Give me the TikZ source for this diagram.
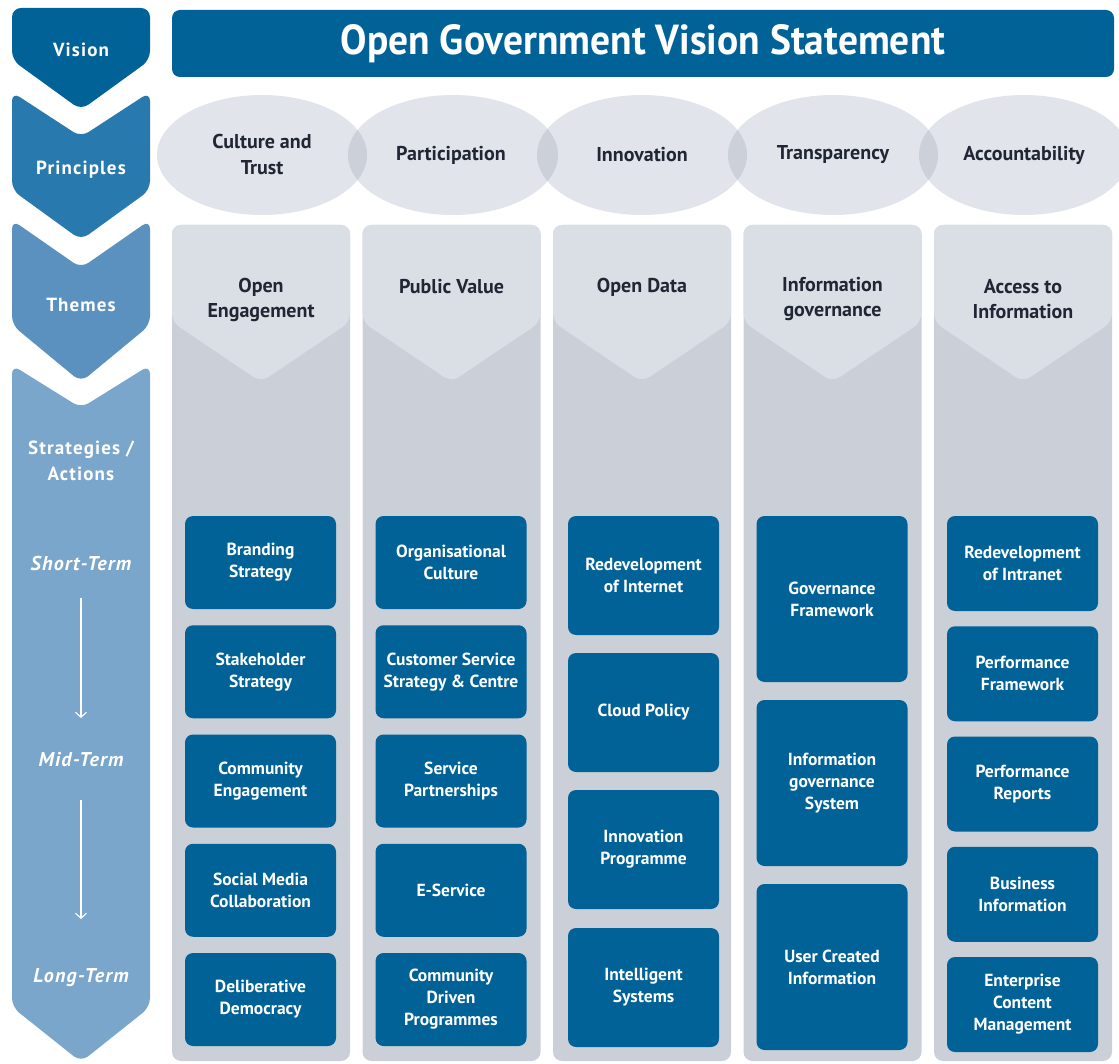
\documentclass[tikz,border=0pt]{standalone}
\usepackage{fontspec}
\setmainfont{PT Sans}
\newfontfamily\chevfont{PT Sans}[LetterSpace=6]
\newfontfamily\titlefont{PT Sans}[FakeStretch=0.94]
\usetikzlibrary{arrows.meta,shapes.geometric}
\definecolor{cvision}{RGB}{0,98,150}
\definecolor{cprinc}{RGB}{40,121,173}
\definecolor{cthemes}{RGB}{90,145,190}
\definecolor{cstrat}{RGB}{122,166,203}
\definecolor{colbody}{RGB}{203,208,216}
\definecolor{colhead}{RGB}{218,222,229}
\definecolor{ellfill}{RGB}{225,228,234}
\definecolor{ellover}{RGB}{204,209,217}
\definecolor{darktext}{RGB}{32,38,52}
\definecolor{boxblue}{RGB}{0,98,150}
\begin{document}
\begin{tikzpicture}[x=1pt,y=-1pt,
  chevlabel/.style={text=white,font=\chevfont\bfseries\fontsize{19}{26}\selectfont,align=center,inner sep=1pt},
  termlabel/.style={text=white,font=\chevfont\bfseries\itshape\fontsize{20}{26}\selectfont,inner sep=1pt},
  termarrow/.style={white,line width=1.1pt,-{Straight Barb[length=5pt,width=11pt]}},
  header/.style={fill=cvision,rounded corners=8pt,minimum width=942pt,minimum height=67pt,text=white,font=\titlefont\bfseries\fontsize{42}{48}\selectfont,inner sep=0pt},
  princ/.style={text=darktext,font=\bfseries\fontsize{20}{26}\selectfont,align=center,inner sep=1pt},
  theme/.style={text=darktext,font=\bfseries\fontsize{20}{25}\selectfont,align=center,inner sep=1pt},
  actbox/.style={fill=boxblue,rounded corners=8pt,minimum width=151pt,text=white,font=\bfseries\fontsize{17.5}{22}\selectfont,align=center,inner sep=2pt},
]
\useasboundingbox (0,0) rectangle (1119,1064);
\fill[white] (0,0) rectangle (1119,1064);

% ---- left chevrons ----
\fill[cvision,rounded corners=9pt] (12,60) -- (12,8) -- (150,8) -- (150,60) -- (81,110) -- cycle;
\fill[cprinc,rounded corners=9pt] (12,92) -- (81,137) -- (150,92) -- (150,190) -- (81,240) -- (12,190) -- cycle;
\fill[cthemes,rounded corners=9pt] (12,220) -- (81,268) -- (150,220) -- (150,325) -- (81,382) -- (12,325) -- cycle;
\fill[cstrat,rounded corners=9pt] (12,365) -- (81,408) -- (150,365) -- (150,1007) -- (81,1062) -- (12,1007) -- cycle;

\node[chevlabel] (lvision) at (81,50) {Vision};
\node[chevlabel] (lprinc) at (81,170) {Principles};
\node[chevlabel] (lthemes) at (81,305) {Themes};
\node[chevlabel] (lstrat) at (81,461) {Strategies /\\Actions};
\node[termlabel] (lshort) at (81,563) {Short-Term};
\node[termlabel] (lmid) at (81,760) {Mid-Term};
\node[termlabel] (llong) at (81,978) {Long-Term};
\coordinate (a1s) at (81,598);
\coordinate (a1e) at (81,718);
\coordinate (a2s) at (81,800);
\coordinate (a2e) at (81,919);
\draw[termarrow] (a1s) -- (a1e);
\draw[termarrow] (a2s) -- (a2e);

% ---- header ----
\node[header] (title) at (643,43.5) {Open Government Vision Statement};

% ---- principle ellipses ----
\foreach \cx in {262,453,642,833,1024}{
  \fill[ellfill] (\cx,155) ellipse [x radius=105pt, y radius=60pt];
}
\foreach \ca/\cb in {262/453,453/642,642/833,833/1024}{
  \begin{scope}
    \clip (\ca,155) ellipse [x radius=105pt, y radius=60pt];
    \fill[ellover] (\cb,155) ellipse [x radius=105pt, y radius=60pt];
  \end{scope}
}
\node[princ] (p1) at (262,155) {Culture and\\Trust};
\node[princ] (p2) at (451,155) {Participation};
\node[princ] (p3) at (642,155) {Innovation};
\node[princ] (p4) at (833,155) {Transparency};
\node[princ] (p5) at (1024,155) {Accountability};

% ---- columns ----
\foreach \i in {0,...,4}{
  \pgfmathsetmacro{\xl}{172+190.5*\i}
  \pgfmathsetmacro{\xr}{\xl+178}
  \pgfmathsetmacro{\xc}{\xl+89}
  \fill[colbody,rounded corners=9pt] (\xl,225) rectangle (\xr,1061);
  \fill[colhead,rounded corners=9pt] (\xl,322) -- (\xl,225) -- (\xr,225) -- (\xr,322) -- (\xc,382) -- cycle;
}
\node[theme] (t1) at (261,299.5) {Open\\Engagement};
\node[theme] (t2) at (451.5,287) {Public Value};
\node[theme] (t3) at (642,287) {Open Data};
\node[theme] (t4) at (832.5,299.5) {Information\\governance};
\node[theme] (t5) at (1023,299.5) {Access to\\Information};

% ---- column 1 ----
\node[actbox,minimum height=93pt] (b11) at (260.5,562.5) {Branding\\Strategy};
\node[actbox,minimum height=93pt] (b12) at (260.5,671.75) {Stakeholder\\Strategy};
\node[actbox,minimum height=93pt] (b13) at (260.5,781) {Community\\Engagement};
\node[actbox,minimum height=93pt] (b14) at (260.5,890.25) {Social Media\\Collaboration};
\node[actbox,minimum height=93pt] (b15) at (260.5,999.5) {Deliberative\\Democracy};

% ---- column 2 ----
\node[actbox,minimum height=93pt] (b21) at (451,562.5) {Organisational\\Culture};
\node[actbox,minimum height=93pt] (b22) at (451,671.75) {Customer Service\\Strategy \& Centre};
\node[actbox,minimum height=93pt] (b23) at (451,781) {Service\\Partnerships};
\node[actbox,minimum height=93pt] (b24) at (451,890.25) {E-Service};
\node[actbox,minimum height=93pt] (b25) at (451,999.5) {Community\\Driven\\Programmes};

% ---- column 3 ----
\node[actbox,minimum height=119pt] (b31) at (643.5,575.5) {Redevelopment\\of Internet};
\node[actbox,minimum height=119pt] (b32) at (643.5,712.5) {Cloud Policy};
\node[actbox,minimum height=119pt] (b33) at (643.5,849.5) {Innovation\\Programme};
\node[actbox,minimum height=119pt] (b34) at (643.5,987.5) {Intelligent\\Systems};

% ---- column 4 ----
\node[actbox,minimum height=166pt] (b41) at (832,599) {Governance\\Framework};
\node[actbox,minimum height=166pt] (b42) at (832,783) {Information\\governance\\System};
\node[actbox,minimum height=166pt] (b43) at (832,967) {User Created\\Information};

% ---- column 5 ----
\node[actbox,minimum height=95pt] (b51) at (1022.5,563.5) {Redevelopment\\of Intranet};
\node[actbox,minimum height=95pt] (b52) at (1022.5,673.75) {Performance\\Framework};
\node[actbox,minimum height=95pt] (b53) at (1022.5,784) {Performance\\Reports};
\node[actbox,minimum height=95pt] (b54) at (1022.5,894.25) {Business\\Information};
\node[actbox,minimum height=95pt] (b55) at (1022.5,1004.5) {Enterprise\\Content\\Management};
\end{tikzpicture}
\end{document}
